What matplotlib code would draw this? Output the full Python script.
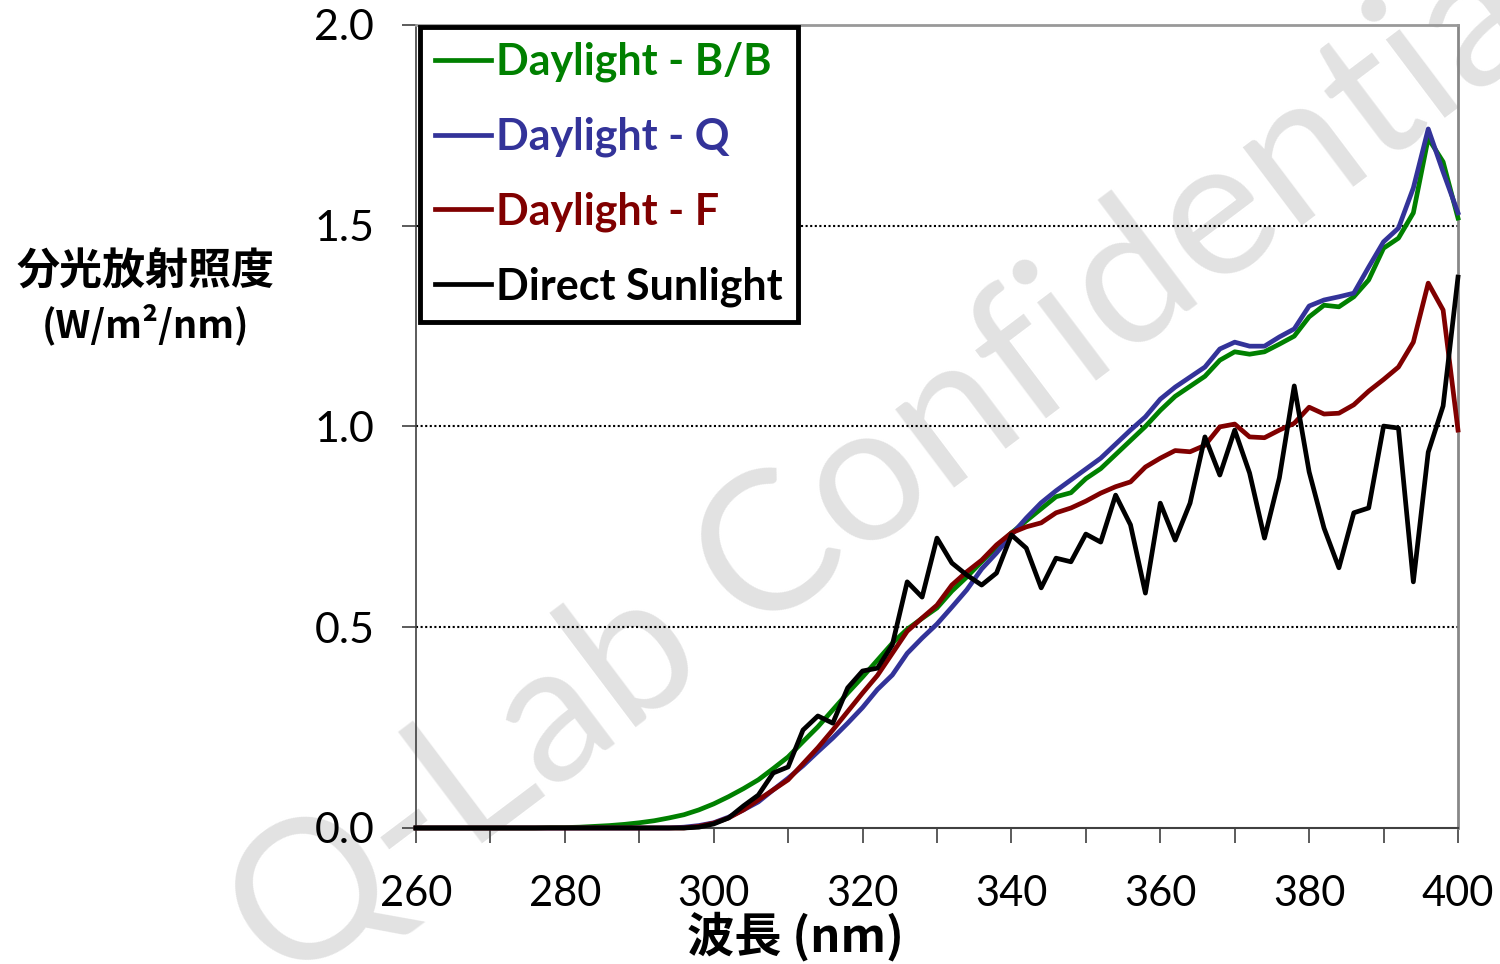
import numpy as np
import matplotlib
matplotlib.use("Agg")
import matplotlib.pyplot as plt
from matplotlib.ticker import MultipleLocator

# wavelength grid (nm)
wavelength = np.arange(260, 401, 2)

daylight_bb = [0, 0, 0, 0, 0, 0, 0, 0, 0, 0.001, 0.001,
               0.002, 0.004, 0.006, 0.009, 0.013, 0.018, 0.025, 0.033, 0.045, 0.06,
               0.078, 0.098, 0.12, 0.148, 0.177, 0.215, 0.252, 0.294, 0.336, 0.376,
               0.418, 0.46, 0.495, 0.522, 0.548, 0.59, 0.625, 0.663, 0.7, 0.735,
               0.765, 0.795, 0.825, 0.835, 0.87, 0.895, 0.93, 0.965, 1.0, 1.04,
               1.075, 1.1, 1.125, 1.165, 1.186, 1.18, 1.186, 1.205, 1.225, 1.273,
               1.302, 1.298, 1.323, 1.365, 1.444, 1.469, 1.532, 1.718, 1.659, 1.519]

daylight_q = [0] * 18 + [
              0.002, 0.006, 0.013, 0.027, 0.045, 0.065, 0.095, 0.124, 0.155, 0.19,
              0.224, 0.261, 0.3, 0.345, 0.381, 0.435, 0.473, 0.508, 0.55, 0.593,
              0.645, 0.685, 0.73, 0.772, 0.81, 0.84, 0.867, 0.894, 0.921, 0.956,
              0.991, 1.024, 1.068, 1.098, 1.123, 1.148, 1.193, 1.21, 1.2, 1.2,
              1.223, 1.243, 1.3, 1.315, 1.323, 1.332, 1.397, 1.46, 1.494, 1.594,
              1.741, 1.634, 1.532]

daylight_f = [0] * 19 + [
              0.004, 0.012, 0.025, 0.045, 0.07, 0.095, 0.12, 0.16, 0.2, 0.244,
              0.29, 0.336, 0.38, 0.435, 0.49, 0.523, 0.555, 0.605, 0.638, 0.667,
              0.705, 0.735, 0.75, 0.76, 0.785, 0.797, 0.814, 0.834, 0.85, 0.862,
              0.899, 0.921, 0.94, 0.937, 0.953, 0.999, 1.006, 0.974, 0.972, 0.991,
              1.008, 1.048, 1.031, 1.033, 1.054, 1.088, 1.117, 1.148, 1.21, 1.357,
              1.29, 0.991]

direct_sun = [0] * 19 + [
              0.002, 0.01, 0.025, 0.055, 0.082, 0.137, 0.152, 0.244, 0.279, 0.261,
              0.349, 0.391, 0.398, 0.456, 0.613, 0.575, 0.722, 0.66, 0.63, 0.605,
              0.635, 0.73, 0.697, 0.598, 0.672, 0.663, 0.732, 0.712, 0.829, 0.755,
              0.585, 0.809, 0.717, 0.809, 0.974, 0.879, 0.991, 0.884, 0.722, 0.872,
              1.101, 0.887, 0.747, 0.648, 0.785, 0.797, 1.001, 0.996, 0.613, 0.936,
              1.051, 1.372]

series = [
    ("Daylight - B/B", daylight_bb, "#008000"),
    ("Daylight - Q", daylight_q, "#333399"),
    ("Daylight - F", daylight_f, "#800000"),
    ("Direct Sunlight", direct_sun, "#000000"),
]

plt.rcParams['font.family'] = ['Lato', 'DejaVu Sans']
cjk = ['Noto Sans CJK JP', 'Lato', 'DejaVu Sans']

fig = plt.figure(figsize=(15, 9.64), dpi=100)
ax = fig.add_axes([0.2773, 0.1411, 0.9720 - 0.2773, 0.9741 - 0.1411])
ax.set_zorder(1)
ax.patch.set_alpha(0)

# watermark behind everything
fig.text(0.602, 0.525, "Q-Lab Confidential", fontsize=140, color="#e2e2e2",
         rotation=37, ha="center", va="center", rotation_mode="anchor", zorder=0)

for label, vals, col in series:
    ax.plot(wavelength, vals, color=col, lw=3.4, label=label, clip_on=False, zorder=3)

ax.set_xlim(260, 400)
ax.set_ylim(0, 2.0)
ax.xaxis.set_major_locator(MultipleLocator(20))
ax.xaxis.set_minor_locator(MultipleLocator(10))
ax.yaxis.set_major_locator(MultipleLocator(0.5))
ax.yaxis.set_major_formatter(matplotlib.ticker.FormatStrFormatter('%.1f'))

for y in [0.5, 1.0, 1.5]:
    ax.axhline(y, color="black", lw=1.5, ls=(0, (1, 1.2)), zorder=1)

ax.tick_params(axis='x', which='both', direction='out', length=11, width=1.2,
               color='#404040', labelsize=30, pad=23)
ax.tick_params(axis='y', which='major', direction='out', length=10, width=1.2,
               color='#404040', labelsize=31, pad=20)
ax.spines['left'].set_color('#404040')
ax.spines['bottom'].set_color('#404040')
ax.spines['left'].set_linewidth(1.2)
ax.spines['bottom'].set_linewidth(1.5)
ax.spines['right'].set_color('#888888')
ax.spines['right'].set_linewidth(2)
ax.spines['top'].set_color('#999999')
ax.spines['top'].set_linewidth(2)
ax.spines['top'].set_linestyle((0, (3, 1)))

leg = ax.legend(loc='upper left', bbox_to_anchor=(0.004, 0.998), borderaxespad=0,
                fancybox=False, framealpha=1, edgecolor='black',
                prop={'family': 'Lato', 'weight': 'bold', 'size': 31},
                handlelength=1.3, handletextpad=0.12, labelspacing=0.8,
                borderpad=0.35)
leg.get_frame().set_linewidth(3.5)
for txt, (_, _, col) in zip(leg.get_texts(), series):
    txt.set_color(col)

fig.text(0.53, 0.028, "波長 (nm)", fontsize=34, fontweight='bold', family=cjk,
         ha='center', va='center')
fig.text(0.097, 0.718, "分光放射照度", fontsize=31, fontweight='bold', family=cjk,
         ha='center', va='center')
fig.text(0.097, 0.663, "(W/m²/nm)", fontsize=27.5, fontweight='bold', family=cjk,
         ha='center', va='center')

fig.savefig("out.png", dpi=100)
